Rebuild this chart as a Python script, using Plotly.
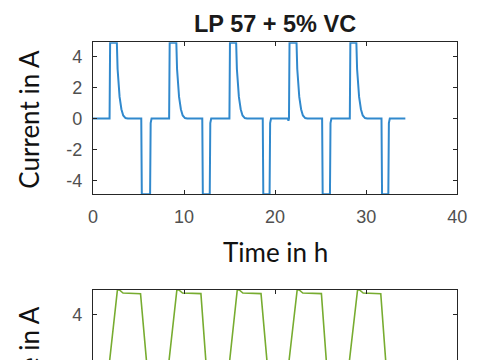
import plotly.graph_objects as go

# ---------------- data ----------------
time_h = [0, 1.82, 1.88, 2.62, 2.70, 2.79, 2.92, 3.12, 3.32, 3.57, 3.82, 5.30, 5.36, 6.27, 6.33, 6.43,
          8.36, 8.42, 9.15, 9.23, 9.32, 9.45, 9.65, 9.85, 10.10, 10.35, 12.00, 12.06, 12.82, 12.88, 12.98,
          14.98, 15.04, 15.72, 15.80, 15.89, 16.02, 16.22, 16.42, 16.67, 16.92, 18.64, 18.70, 19.39, 19.45, 19.55,
          21.40, 21.46, 21.52, 21.58, 22.35, 22.43, 22.52, 22.65, 22.85, 23.05, 23.30, 23.55, 25.16, 25.22, 26.02, 26.08, 26.18,
          28.20, 28.26, 28.92, 29.00, 29.09, 29.22, 29.42, 29.62, 29.87, 30.12, 31.68, 31.74, 32.43, 32.49, 32.59,
          34.30]
current_A = [0, 0, 4.9, 4.9, 3.2, 2.2, 1.4, 0.6, 0.2, 0.03, 0, 0, -4.9, -4.9, -0.3, 0,
             0, 4.9, 4.9, 3.2, 2.2, 1.4, 0.6, 0.2, 0.03, 0, 0, -4.9, -4.9, -0.3, 0,
             0, 4.9, 4.9, 3.2, 2.2, 1.4, 0.6, 0.2, 0.03, 0, 0, -4.9, -4.9, -0.3, 0,
             0, -0.15, 0, 4.9, 4.9, 3.2, 2.2, 1.4, 0.6, 0.2, 0.03, 0, 0, -4.9, -4.9, -0.3, 0,
             0, 4.9, 4.9, 3.2, 2.2, 1.4, 0.6, 0.2, 0.03, 0, 0, -4.9, -4.9, -0.3, 0,
             0]

time2_h = [0,
           1.80, 2.68, 2.90, 3.30, 5.22, 5.87, 6.36, 6.50,
           8.32, 9.21, 9.43, 9.83, 11.85, 12.39, 12.88, 13.02,
           14.98, 15.84, 16.06, 16.46, 18.45, 19.10, 19.45, 19.60,
           21.50, 22.42, 22.64, 23.04, 25.08, 25.62, 26.08, 26.22,
           28.13, 29.05, 29.27, 29.67, 31.60, 32.14, 32.49, 32.63,
           34.30]
second_A = [3.45,
            3.60, 4.20, 4.20, 4.175, 4.17, 3.62, 3.20, 3.45,
            3.60, 4.20, 4.20, 4.175, 4.17, 3.62, 3.20, 3.45,
            3.60, 4.20, 4.20, 4.175, 4.17, 3.62, 3.20, 3.45,
            3.60, 4.20, 4.20, 4.175, 4.17, 3.62, 3.20, 3.45,
            3.60, 4.20, 4.20, 4.175, 4.17, 3.62, 3.20, 3.45,
            3.45]

x_ticks = [0, 10, 20, 30, 40]
x_ticklabels = ["0", "10", "20", "30", "40"]
y_ticks = [-4, -2, 0, 2, 4]
y_ticklabels = ["-4", "-2", "0", "2", "4"]
y2_ticks = [4]
y2_ticklabels = ["4"]

title_text = "LP 57 + 5% VC"
ylabel_top = "Current in A"
xlabel_top = "Time in h"
ylabel_bottom = "Voltage in A"

# ---------------- figure ----------------
W, H = 485, 360
px = lambda v: ((v - 2.1) / 0.979) / W
py = lambda v: 1 - v / H

axis_col = "#262626"
tickfont = dict(family="Liberation Sans, Arial, sans-serif", size=18, color="#505050")
label_font = dict(family="Lato, sans-serif", size=26, color="#111111")

fig = go.Figure()
fig.add_trace(go.Scatter(x=time_h, y=current_A, mode="lines",
                         line=dict(color="#3189cd", width=2), xaxis="x", yaxis="y",
                         showlegend=False, hoverinfo="skip"))
fig.add_trace(go.Scatter(x=time2_h, y=second_A, mode="lines",
                         line=dict(color="#77AC30", width=1.6), xaxis="x2", yaxis="y2",
                         showlegend=False, hoverinfo="skip"))

common = dict(showline=True, linecolor=axis_col, linewidth=1.3, ticks="inside", ticklen=4,
              tickcolor=axis_col, tickwidth=1, showgrid=False, zeroline=False, tickfont=tickfont)

xdom = [px(91), px(459)]
fig.update_layout(
    width=W, height=H, autosize=False, margin=dict(l=0, r=0, t=0, b=0),
    paper_bgcolor="white", plot_bgcolor="white",
    xaxis=dict(common, domain=xdom, range=[0, 40], anchor="y", mirror="allticks",
               tickmode="array", tickvals=x_ticks, ticktext=x_ticklabels, ticklabelstandoff=6),
    yaxis=dict(common, domain=[py(194), py(42.3)], range=[-4.88, 4.93], anchor="x", mirror="allticks",
               tickmode="array", tickvals=y_ticks, ticktext=y_ticklabels, ticklabelstandoff=6),
    xaxis2=dict(common, domain=xdom, range=[0, 40], anchor="y2", side="top", mirror=False,
                tickmode="array", tickvals=x_ticks, showticklabels=False),
    yaxis2=dict(common, domain=[0, py(290)], range=[3.624, 4.2], anchor="x2", mirror="allticks",
                tickmode="array", tickvals=y2_ticks, ticktext=y2_ticklabels, ticklabelstandoff=6),
    annotations=[
        dict(text="<b>" + title_text + "</b>", x=px(275), y=py(24.5), xref="paper", yref="paper",
             showarrow=False, xanchor="center", yanchor="middle",
             font=dict(family="Liberation Sans, Arial, sans-serif", size=23.5, color="#1a1a1a")),
        dict(text=ylabel_top, x=px(26), y=py(119), xref="paper", yref="paper", textangle=-90,
             showarrow=False, xanchor="center", yanchor="middle", font=label_font),
        dict(text=xlabel_top, x=px(275), y=py(252), xref="paper", yref="paper",
             showarrow=False, xanchor="center", yanchor="middle", font=label_font),
        dict(text=ylabel_bottom, x=px(26), y=py(304), xref="paper", yref="paper", textangle=-90,
             showarrow=False, xanchor="center", yanchor="top", font=label_font),
    ],
)

post = ("document.documentElement.style.overflow='hidden';"
        "document.body.style.margin='0';document.body.style.padding='0';"
        "document.body.style.overflow='hidden';")

fig.write_html("out.html",
               config={"displayModeBar": False, "responsive": False},
               post_script=post)
